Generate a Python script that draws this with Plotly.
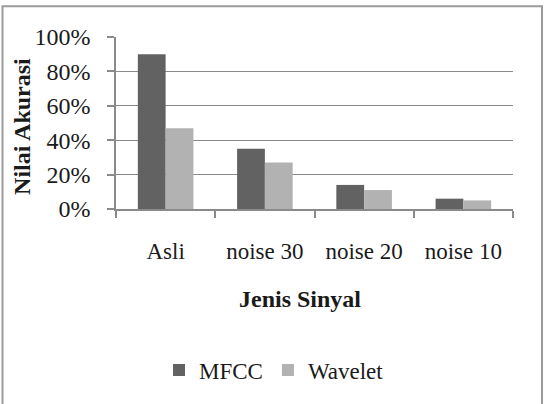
import plotly.graph_objects as go

categories = ["Asli", "noise 30", "noise 20", "noise 10"]
mfcc = [0.90, 0.35, 0.14, 0.06]
wavelet = [0.47, 0.27, 0.11, 0.05]
y_ticks = [0, 0.2, 0.4, 0.6, 0.8, 1.0]

FONT = "Liberation Serif"
W, H = 547, 404
L, R, T, B = 116, 34, 37, 193
pw = W - L - R
ph = H - T - B

fig = go.Figure()
fig.add_trace(go.Bar(name="MFCC", x=categories, y=mfcc, marker=dict(color="#626262", line=dict(width=0))))
fig.add_trace(go.Bar(name="Wavelet", x=categories, y=wavelet, marker=dict(color="#b2b2b2", line=dict(width=0))))

def px_x(x):
    return (x - L) / pw

def px_y(y):
    return (H - B - y) / ph

fig.update_layout(
    width=W, height=H,
    margin=dict(l=L, r=R, t=T, b=B),
    paper_bgcolor="white", plot_bgcolor="white",
    barmode="group", bargap=0.44, bargroupgap=0,
    font=dict(family=FONT, size=22, color="#1a1a1a"),
    showlegend=True,
    legend=dict(orientation="h", x=px_x(274), xanchor="center", y=px_y(374), yanchor="middle",
                font=dict(family=FONT, size=23), itemwidth=30, tracegroupgap=0),
    xaxis=dict(
        showgrid=False, showline=True, linecolor="#8a8a8a", linewidth=1.5,
        ticks="outside", tickson="boundaries", ticklen=7, tickcolor="#8a8a8a", tickwidth=1.5,
        tickfont=dict(family=FONT, size=23), ticklabelstandoff=21,
    ),
    yaxis=dict(
        range=[0, 1.0], tickvals=y_ticks, tickformat=".0%",
        showgrid=True, gridcolor="#8a8a8a", gridwidth=1.3,
        showline=True, linecolor="#8a8a8a", linewidth=1.5,
        ticks="outside", ticklen=7, tickcolor="#8a8a8a", tickwidth=1.5,
        tickfont=dict(family=FONT, size=24), ticklabelstandoff=12,
        zeroline=False,
    ),
    annotations=[
        dict(text="<b>Jenis Sinyal</b>", x=px_x(300), y=px_y(302), xref="paper", yref="paper",
             xanchor="center", yanchor="middle", showarrow=False, font=dict(family=FONT, size=24)),
        dict(text="<b>Nilai Akurasi</b>", x=px_x(22), y=px_y(128), xref="paper", yref="paper",
             xanchor="center", yanchor="middle", showarrow=False, textangle=-90,
             font=dict(family=FONT, size=24)),
    ],
)

fig.add_shape(type="rect", xref="paper", yref="paper",
              x0=px_x(2.5), x1=px_x(542), y0=px_y(410), y1=px_y(6),
              line=dict(color="#9a9a9a", width=2), fillcolor="rgba(0,0,0,0)", layer="below")

fig.write_html("out.html")
